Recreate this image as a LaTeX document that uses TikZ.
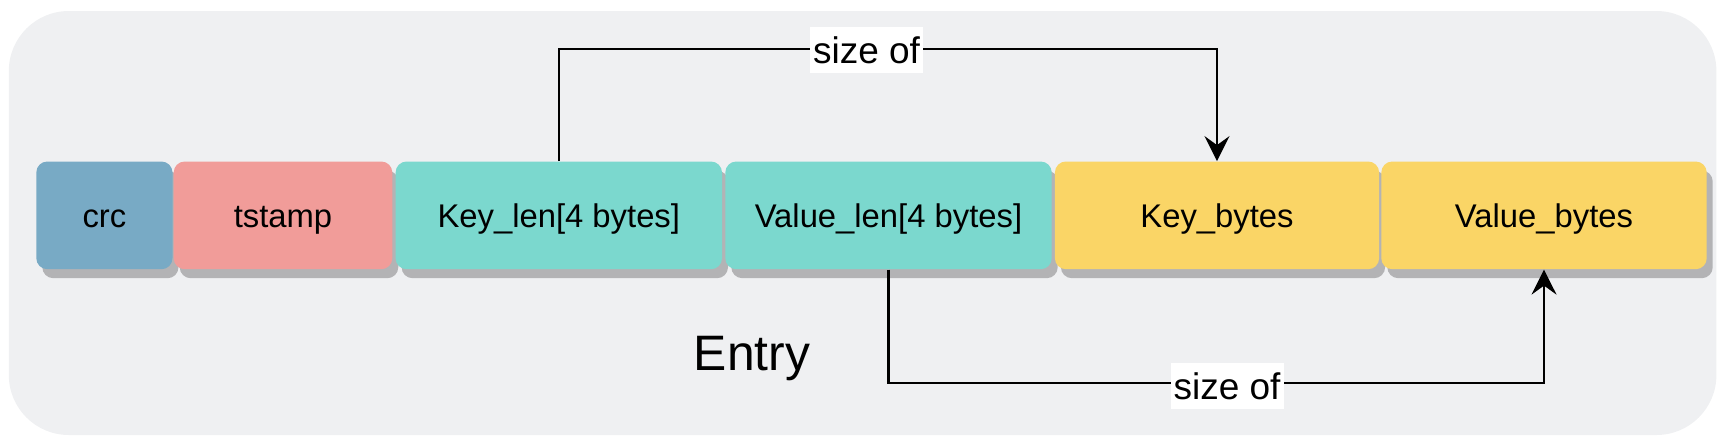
\documentclass[tikz,border=0pt]{standalone}
\usepackage{fontspec}
\setmainfont{Liberation Sans}
\usetikzlibrary{shadows,arrows.meta}
\definecolor{bgc}{HTML}{EFF0F2}
\definecolor{crcc}{HTML}{78AAC5}
\definecolor{tsc}{HTML}{F19C99}
\definecolor{tealc}{HTML}{7BD8CE}
\definecolor{yelc}{HTML}{FAD566}
\definecolor{shc}{HTML}{B3B3B5}
\tikzset{
  cell/.style={rounded corners=5.5pt, inner sep=0pt, minimum height=53.85pt,
    text height=11.7pt, text depth=0pt,
    font=\fontsize{16.4}{19}\selectfont,
    drop shadow={shadow xshift=3pt, shadow yshift=-4.5pt, fill=shc, opacity=1}},
  lbl/.style={fill=white, inner sep=0pt, minimum width=56.5pt, minimum height=23pt,
    text height=13pt, text depth=0pt, font=\fontsize{18.5}{22}\selectfont},
  arr/.style={line width=1.1pt, -{Stealth[length=12.5pt, width=12.5pt, inset=4.5pt]}},
}
\begin{document}
\begin{tikzpicture}[x=0.5pt, y=-0.5pt]
\useasboundingbox (0,0) rectangle (1723,446);
\fill[bgc, rounded corners=30pt] (8.8,11) rectangle (1716.4,435);
\node[cell, fill=crcc, minimum width=68.1pt] (crc) at (104.4,215.35) {crc};
\node[cell, fill=tsc, minimum width=109.3pt] (ts) at (283,215.35) {tstamp};
\node[cell, fill=tealc, minimum width=163.2pt] (kl) at (558.8,215.35) {Key\_len[4 bytes]};
\node[cell, fill=tealc, minimum width=163.2pt] (vl) at (888.5,215.35) {Value\_len[4 bytes]};
\node[cell, fill=yelc, minimum width=162.1pt] (kb) at (1217,215.35) {Key\_bytes};
\node[cell, fill=yelc, minimum width=162.7pt] (vb) at (1544,215.35) {Value\_bytes};
\coordinate (top) at (559,49.3);
\coordinate (bot) at (888,383.3);
\draw[arr] (kl.north) -- (kl.north |- top) -| (kb.north);
\draw[arr] (vl.south) -- (vl.south |- bot) -| (vb.south);
\node[lbl] (l1) at (866.5,50) {size of};
\node[lbl] (l2) at (1227,386) {size of};
\node[font=\fontsize{24.9}{30}\selectfont, anchor=base, inner sep=0pt] (entry) at (752,370) {Entry};
\end{tikzpicture}
\end{document}
